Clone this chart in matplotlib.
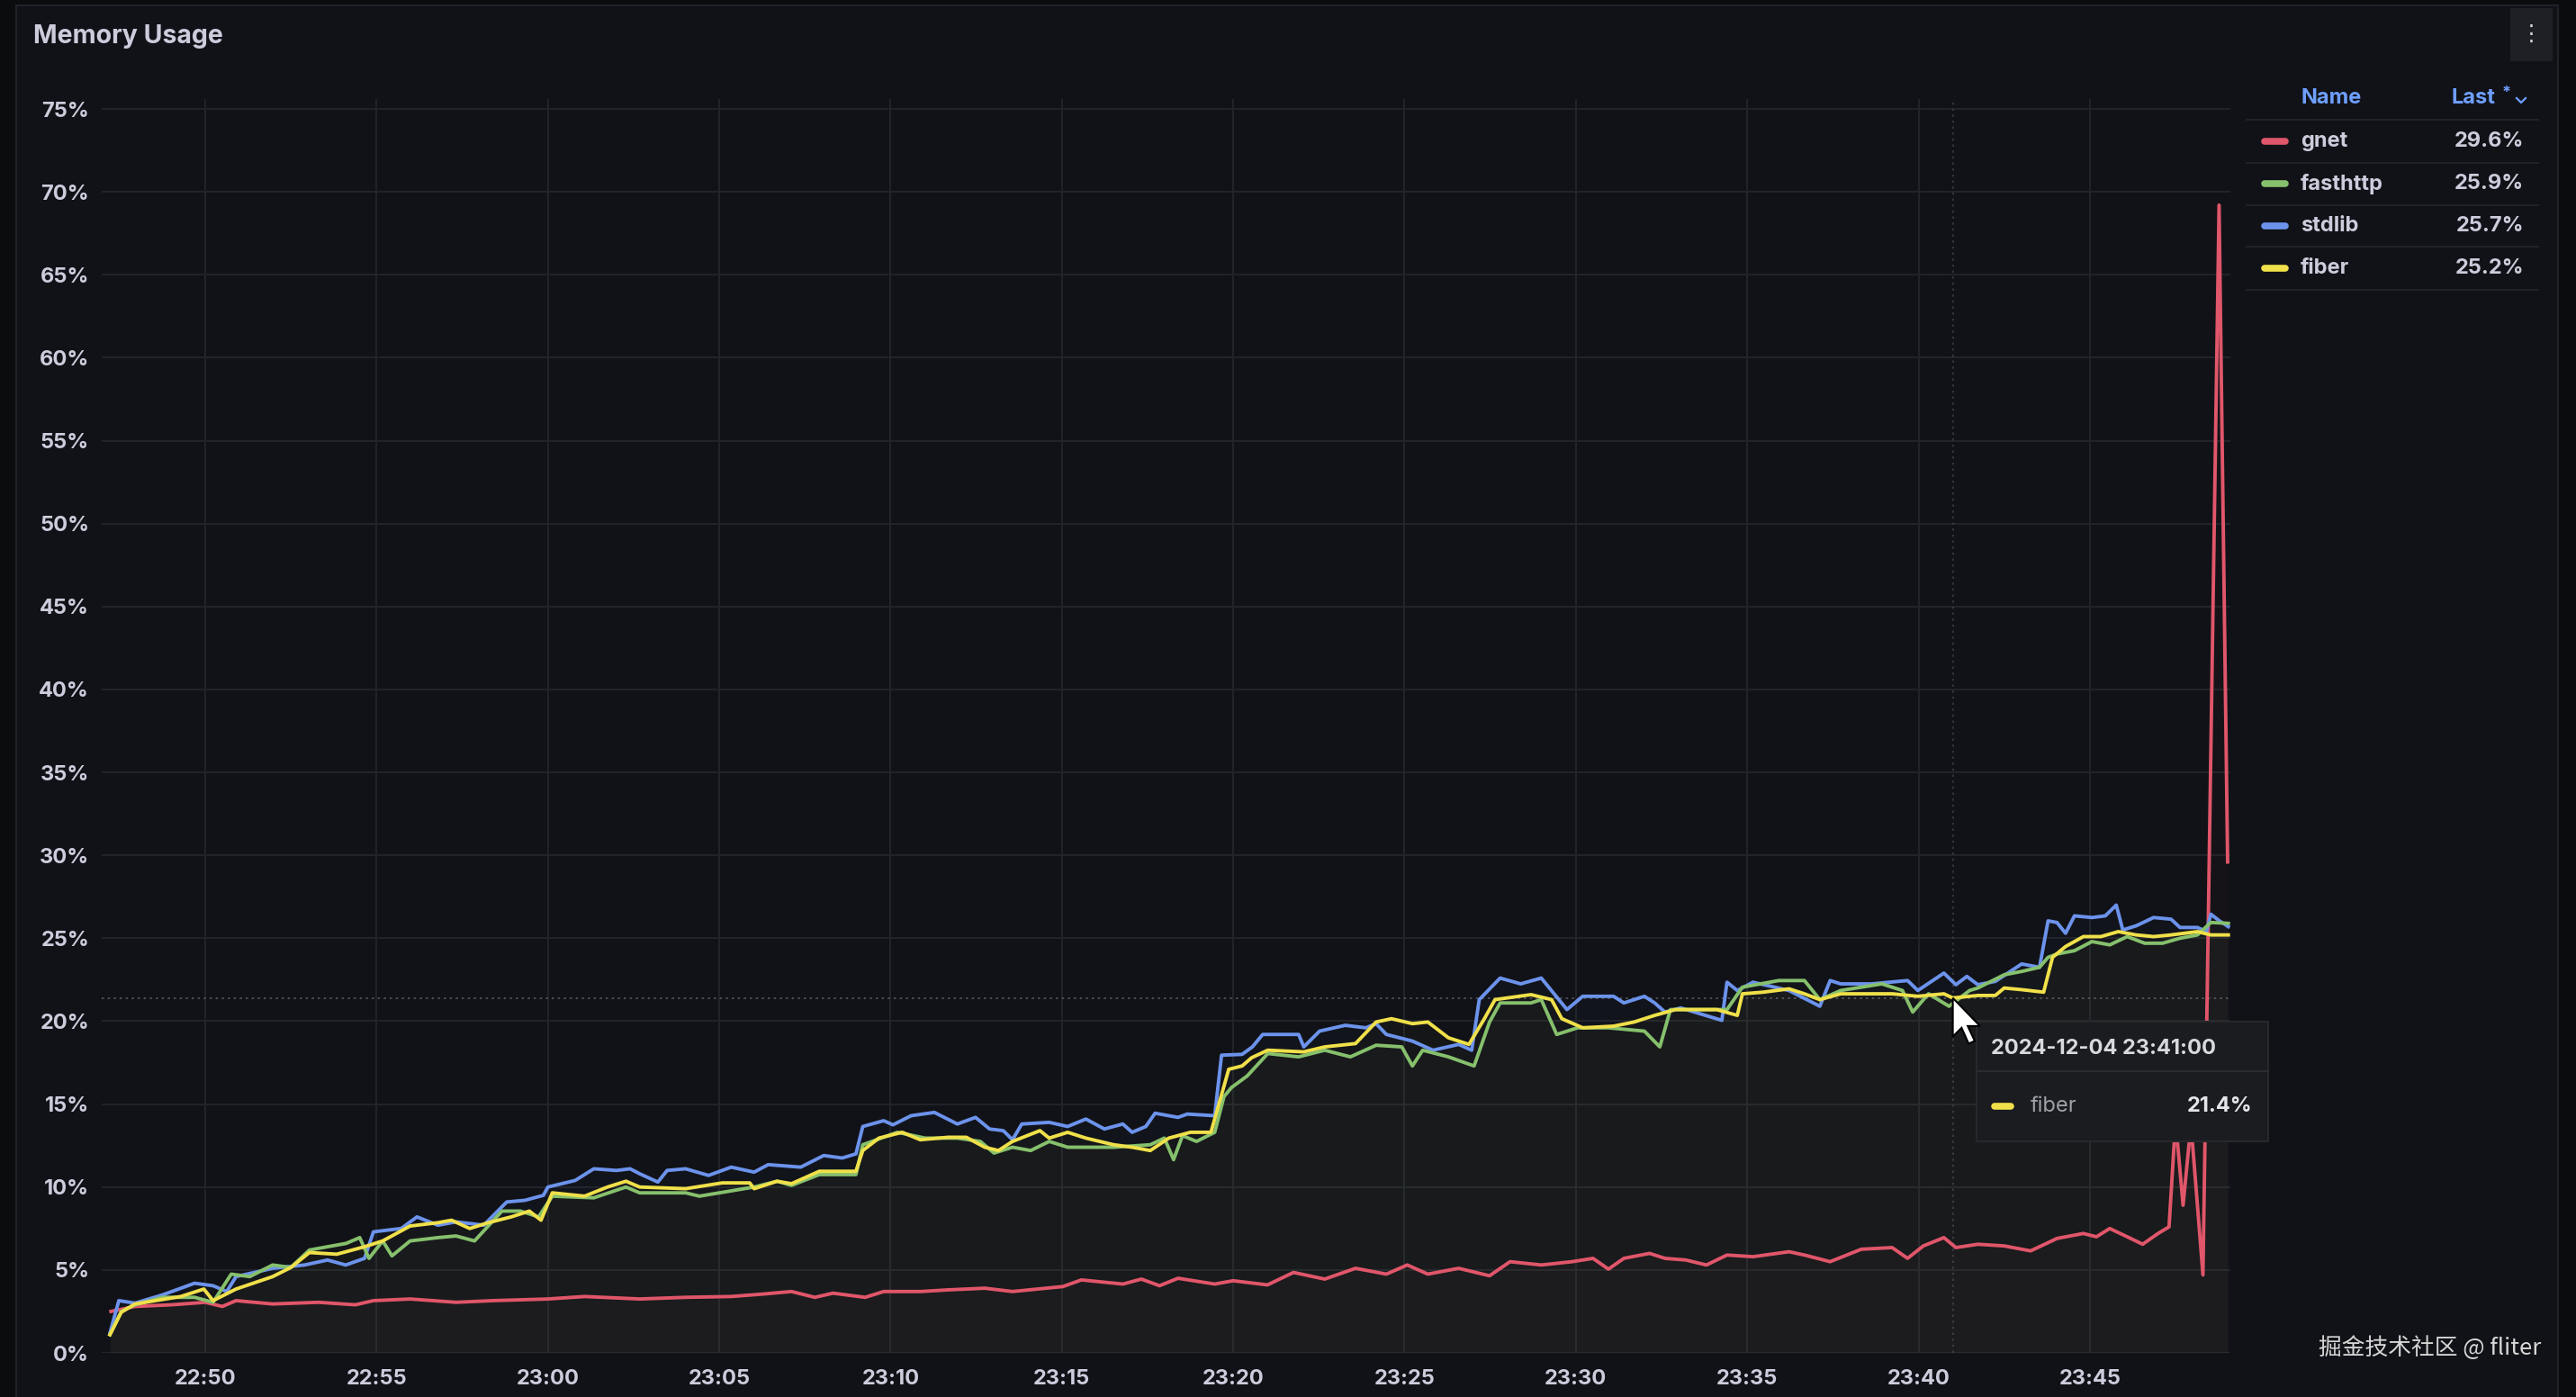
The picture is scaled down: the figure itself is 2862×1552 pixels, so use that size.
import matplotlib
matplotlib.use("Agg")
import matplotlib.pyplot as plt
from matplotlib.patches import Rectangle, Polygon
from matplotlib.lines import Line2D
import numpy as np
import pandas as pd

plt.rcParams['font.family'] = ['Inter', 'DejaVu Sans']

# ---- data (minutes after 22:50, percent) ----
day = "2024-12-04"
base = pd.Timestamp(day + " 22:50:00")

stdlib_min = [-2.78, -2.52, -2.05, -1.24, -0.31, 0.23, 0.63, 0.9, 1.97, 2.9, 3.57, 4.1, 4.65, 4.91,
              5.72, 6.18, 6.79, 7.32, 8.13, 8.8, 9.33, 9.87, 10.0, 10.8, 11.34, 12.0, 12.4, 12.68,
              13.21, 13.48, 14.02, 14.69, 15.35, 16.02, 16.43, 17.38, 18.05, 18.59, 18.99, 19.19,
              19.8, 20.07, 20.6, 21.28, 21.95, 22.48, 22.89, 23.29, 23.56, 23.83, 24.63, 25.17,
              25.7, 26.24, 26.78, 27.05, 27.45, 27.72, 28.39, 28.66, 29.46, 29.66, 30.26, 30.56,
              30.86, 31.91, 32.06, 32.52, 33.27, 33.87, 34.17, 34.47, 35.23, 35.83, 36.58, 36.96,
              37.18, 37.79, 38.39, 38.99, 39.74, 40.2, 41.1, 41.4, 42.0, 42.3, 42.6, 43.06, 44.26,
              44.41, 44.71, 45.17, 46.22, 47.12, 47.42, 47.73, 48.63, 49.68, 49.98, 50.74, 51.09,
              51.41, 51.73, 52.24, 53.01, 53.53, 53.78, 54.04, 54.29, 54.55, 55.06, 55.45, 55.77,
              55.96, 56.35, 56.86, 57.37, 57.63, 58.14, 58.4, 58.53, 58.78, 59.04]
stdlib_pct = [1.2, 3.15, 3.0, 3.5, 4.2, 4.05, 3.7, 4.6, 5.1, 5.3, 5.6, 5.3, 5.7, 7.3,
              7.5, 8.2, 7.7, 7.9, 7.7, 9.1, 9.2, 9.5, 10.0, 10.4, 11.1, 11.0, 11.1, 10.8,
              10.3, 11.0, 11.1, 10.7, 11.2, 10.9, 11.35, 11.2, 11.9, 11.75, 12.0, 13.65,
              14.0, 13.75, 14.3, 14.5, 13.8, 14.2, 13.5, 13.4, 12.85, 13.8, 13.9, 13.65,
              14.1, 13.5, 13.8, 13.3, 13.65, 14.45, 14.2, 14.4, 14.3, 17.95, 18.0, 18.45,
              19.2, 19.2, 18.45, 19.4, 19.75, 19.6, 19.85, 19.2, 18.8, 18.25, 18.6, 18.25,
              21.3, 22.6, 22.25, 22.6, 20.7, 21.5, 21.5, 21.1, 21.5, 21.1, 20.55, 20.8, 20.05,
              22.35, 21.85, 22.35, 21.85, 20.9, 22.45, 22.25, 22.25, 22.45, 21.85, 22.9, 22.2,
              22.7, 22.2, 22.4, 23.45, 23.25, 26.05, 25.95, 25.3, 26.35, 26.25, 26.35, 27.0,
              25.5, 25.75, 26.25, 26.15, 25.65, 25.65, 25.4, 26.45, 26.05, 25.7]

fasthttp_min = [-2.78, -2.45, -2.05, -1.24, -0.31, 0.23, 0.76, 1.3, 1.97, 2.5, 3.04, 3.57, 4.11, 4.51,
                4.78, 5.18, 5.45, 5.98, 6.79, 7.32, 7.86, 8.26, 8.66, 9.2, 9.73, 10.13, 11.34, 12.28,
                12.68, 14.02, 14.42, 16.02, 16.69, 17.11, 17.92, 18.99, 19.19, 20.2, 21.01, 21.95,
                22.62, 23.02, 23.56, 24.09, 24.63, 25.17, 25.7, 26.51, 27.58, 27.99, 28.26, 28.52,
                28.93, 29.46, 29.73, 29.95, 30.41, 31.01, 31.91, 32.67, 33.42, 34.17, 34.92, 35.23,
                35.53, 36.28, 37.03, 37.48, 37.79, 38.69, 38.99, 39.44, 40.05, 40.95, 42.0, 42.45,
                42.76, 44.41, 44.86, 45.92, 46.67, 47.12, 47.73, 48.93, 49.53, 49.83, 50.29, 50.89,
                51.49, 51.73, 52.5, 53.01, 53.53, 53.78, 54.04, 54.55, 55.06, 55.58, 56.09, 56.6,
                57.12, 57.63, 58.14, 58.53, 59.04]
fasthttp_pct = [1.1, 2.5, 2.9, 3.35, 3.35, 3.05, 4.75, 4.6, 5.3, 5.15, 6.2, 6.4, 6.6, 6.95,
                5.7, 6.75, 5.85, 6.75, 6.95, 7.05, 6.75, 7.65, 8.55, 8.55, 8.2, 9.45, 9.35, 10.0,
                9.65, 9.65, 9.45, 10.0, 10.35, 10.1, 10.75, 10.75, 12.55, 13.3, 12.95, 12.95,
                12.75, 12.05, 12.4, 12.2, 12.75, 12.4, 12.4, 12.4, 12.55, 12.95, 11.65, 13.1,
                12.75, 13.3, 15.45, 16.0, 16.7, 18.05, 17.85, 18.25, 17.85, 18.55, 18.45, 17.3,
                18.25, 17.85, 17.3, 19.95, 21.1, 21.1, 21.3, 19.2, 19.6, 19.6, 19.4, 18.45,
                20.7, 20.7, 22.05, 22.45, 22.45, 21.3, 21.85, 22.25, 21.85, 20.55, 21.65, 20.9,
                21.85, 22.0, 22.8, 23.0, 23.25, 23.85, 24.05, 24.25, 24.8, 24.6, 25.1, 24.7,
                24.7, 25.0, 25.2, 25.95, 25.9]

fiber_min = [-2.78, -2.45, -2.05, -0.71, -0.04, 0.23, 0.9, 1.97, 2.5, 3.04, 3.84, 4.65, 5.18, 5.98,
             6.79, 7.19, 7.72, 8.26, 8.93, 9.46, 9.8, 10.13, 11.07, 11.74, 12.28, 12.68, 14.02,
             15.09, 15.89, 16.02, 16.69, 17.11, 17.92, 18.99, 19.19, 19.66, 20.34, 20.87, 21.68,
             22.21, 22.75, 23.15, 23.56, 24.36, 24.63, 25.17, 25.7, 26.51, 27.05, 27.58, 28.12,
             28.75, 29.35, 29.87, 30.26, 30.54, 31.01, 32.06, 32.67, 33.57, 34.17, 34.62, 35.23,
             35.68, 36.28, 36.88, 37.33, 37.64, 38.69, 39.29, 39.59, 40.2, 41.1, 41.7, 42.3,
             42.91, 44.11, 44.71, 44.86, 45.47, 46.22, 46.67, 47.12, 47.73, 49.23, 49.98, 50.74,
             51.0, 51.73, 52.24, 52.5, 53.01, 53.65, 53.91, 54.29, 54.81, 55.32, 55.83, 56.35,
             56.86, 57.37, 58.14, 58.53, 59.04]
fiber_pct = [1.1, 2.45, 2.95, 3.4, 3.85, 3.15, 3.85, 4.6, 5.15, 6.05, 5.95, 6.4, 6.75, 7.65,
             7.85, 8.0, 7.5, 7.85, 8.2, 8.55, 8.0, 9.65, 9.45, 10.0, 10.35, 10.0, 9.9,
             10.25, 10.25, 9.9, 10.35, 10.2, 10.95, 10.95, 12.2, 12.95, 13.3, 12.85, 13.0,
             13.0, 12.4, 12.2, 12.75, 13.4, 12.95, 13.3, 12.95, 12.55, 12.4, 12.2, 12.95,
             13.3, 13.3, 17.1, 17.3, 17.8, 18.25, 18.15, 18.45, 18.65, 19.95, 20.15, 19.85,
             19.95, 19.0, 18.6, 20.15, 21.3, 21.6, 21.3, 20.15, 19.6, 19.7, 19.95, 20.35,
             20.7, 20.7, 20.35, 21.65, 21.75, 21.95, 21.65, 21.3, 21.65, 21.65, 21.5, 21.65,
             21.4, 21.55, 21.55, 22.0, 21.9, 21.75, 23.85, 24.5, 25.1, 25.1, 25.4, 25.2,
             25.1, 25.2, 25.4, 25.2, 25.2]

gnet_min = [-2.75, -2.05, -0.98, 0.0, 0.5, 0.9, 1.97, 3.31, 4.38, 4.91, 5.98, 7.32, 8.39, 10.0,
            11.07, 12.68, 14.02, 15.35, 16.29, 17.11, 17.79, 18.32, 19.26, 19.8, 20.87, 21.68,
            22.75, 23.56, 25.03, 25.57, 26.78, 27.32, 27.85, 28.39, 29.46, 30.0, 31.0, 31.76,
            32.67, 33.57, 34.47, 35.08, 35.68, 36.58, 37.48, 38.08, 38.99, 39.89, 40.5, 40.95,
            41.4, 42.15, 42.6, 43.21, 43.81, 44.41, 45.17, 46.22, 46.67, 47.42, 48.33, 49.23,
            49.68, 50.14, 50.74, 51.09, 51.73, 52.5, 53.27, 54.04, 54.81, 55.19, 55.58, 56.09,
            56.54, 56.99, 57.31, 57.5, 57.72, 57.95, 58.3, 58.77, 59.02]
gnet_pct = [2.5, 2.8, 2.9, 3.05, 2.8, 3.15, 2.95, 3.05, 2.9, 3.15, 3.25, 3.05, 3.15, 3.25,
            3.4, 3.25, 3.35, 3.4, 3.55, 3.7, 3.35, 3.6, 3.35, 3.7, 3.7, 3.8,
            3.9, 3.7, 4.0, 4.4, 4.15, 4.45, 4.05, 4.5, 4.15, 4.35, 4.1, 4.85,
            4.45, 5.1, 4.75, 5.3, 4.75, 5.1, 4.65, 5.5, 5.3, 5.5, 5.7, 5.05,
            5.7, 6.0, 5.7, 5.6, 5.3, 5.9, 5.8, 6.1, 5.9, 5.5, 6.25, 6.35,
            5.7, 6.45, 6.95, 6.35, 6.55, 6.45, 6.15, 6.9, 7.2, 7.0, 7.5, 7.0,
            6.55, 7.2, 7.6, 14.0, 8.9, 13.8, 4.7, 69.2, 29.6]

legend_names = ["gnet", "fasthttp", "stdlib", "fiber"]
legend_last = ["29.6%", "25.9%", "25.7%", "25.2%"]
colors = {"gnet": "#E0566A", "fasthttp": "#86C06C", "stdlib": "#6C93EC", "fiber": "#F0E04A"}

y_ticks = list(range(0, 80, 5))
x_tick_labels = ["22:50", "22:55", "23:00", "23:05", "23:10", "23:15", "23:20",
                 "23:25", "23:30", "23:35", "23:40", "23:45"]
x_range_min = (-3.02, 59.1)
y_range = (0, 75.6)

hover_time = "23:41:00"
hover_series = "fiber"
hover_value = 21.4


def to_time(mins):
    return (base + pd.to_timedelta(np.asarray(mins), unit="m")).to_pydatetime()


W, H = 2862, 1552
TXT = "#ccccdc"
fig = plt.figure(figsize=(W / 100, H / 100), dpi=100)
fig.patch.set_facecolor("#0b0c0e")
fig.add_artist(Rectangle((18 / W, -0.01), (2842 - 18) / W, 1 - 6 / H + 0.01,
                         transform=fig.transFigure, facecolor="#111217",
                         edgecolor="#202228", lw=1.5, zorder=-5))

ax = fig.add_axes([113 / W, 1 - 1503 / H, (2478 - 113) / W, (1503 - 110) / H])
ax.set_facecolor("none")
for s in ax.spines.values():
    s.set_visible(False)

series = [("gnet", gnet_min, gnet_pct), ("stdlib", stdlib_min, stdlib_pct),
          ("fasthttp", fasthttp_min, fasthttp_pct), ("fiber", fiber_min, fiber_pct)]
for name, tm, pct in series:
    t = to_time(tm)
    ax.fill_between(t, pct, 0, color=colors[name], alpha=0.018, lw=0, zorder=2)
    ax.plot(t, pct, color=colors[name], lw=2.8, solid_joinstyle="round", zorder=3)

ax.set_xlim(to_time(x_range_min[0]), to_time(x_range_min[1]))
ax.set_ylim(*y_range)
ax.set_yticks(y_ticks, labels=[f"{v}%" for v in y_ticks], fontweight="bold")
xt = [pd.Timestamp(day + " " + s).to_pydatetime() for s in x_tick_labels]
ax.set_xticks(xt, labels=x_tick_labels, fontweight="bold")
ax.tick_params(length=0, colors=TXT, labelsize=17)
ax.tick_params(axis="y", pad=10)
ax.tick_params(axis="x", pad=13)
ax.grid(True, color="#24252b", lw=1.3, zorder=0)
ax.set_axisbelow(True)

# hover crosshair
hx = pd.Timestamp(day + " " + hover_time).to_pydatetime()
ax.axhline(hover_value, color="#55575e", lw=1.2, ls=(0, (1.5, 2.5)), zorder=1)
ax.axvline(hx, color="#3a3c42", lw=1.2, ls=(0, (1.5, 2.5)), zorder=1)

# title
fig.text(37 / W, 1 - 41 / H, "Memory Usage", ha="left", va="center",
         fontsize=20.5, fontweight="bold", color=TXT)

# menu button
fig.add_artist(Rectangle((2789 / W, 1 - 68 / H), 47 / W, 59 / H, transform=fig.transFigure,
                         facecolor="#1e2025", edgecolor="none"))
fig.text(2812 / W, 1 - 38 / H, "\u22ee", ha="center", va="center", fontsize=18,
         color=TXT, family="DejaVu Sans")

# legend table
fig.text(2556 / W, 1 - 109 / H, "Name", ha="left", va="center", fontsize=17,
         fontweight="bold", color="#6E9FFF")
fig.text(2772 / W, 1 - 109 / H, "Last", ha="right", va="center", fontsize=17,
         fontweight="bold", color="#6E9FFF")
fig.text(2785 / W, 1 - 104 / H, "*", ha="center", va="center", fontsize=13,
         fontweight="bold", color="#6E9FFF")
fig.add_artist(Line2D([2796 / W, 2801 / W, 2806 / W], [1 - 109 / H, 1 - 114 / H, 1 - 109 / H],
                      transform=fig.transFigure, color="#6E9FFF", lw=1.6))
row_y = [157, 204, 251, 298]
sep_y = [133, 181, 228, 274, 322]
for yy in sep_y:
    fig.add_artist(Line2D([2496 / W, 2820 / W], [1 - yy / H, 1 - yy / H],
                          transform=fig.transFigure, color="#202227", lw=1.5))
for name, last, yy in zip(legend_names, legend_last, row_y):
    fig.add_artist(Line2D([2516 / W, 2539 / W], [1 - yy / H, 1 - yy / H],
                          transform=fig.transFigure, color=colors[name], lw=5.5,
                          solid_capstyle="round"))
    fig.text(2556 / W, 1 - yy / H, name, ha="left", va="center", fontsize=17,
             fontweight="bold", color=TXT)
    fig.text(2804 / W, 1 - yy / H, last, ha="right", va="center", fontsize=17,
             fontweight="bold", color=TXT)

# tooltip
fig.add_artist(Rectangle((2196 / W, 1 - 1268 / H), (2520 - 2196) / W, (1268 - 1135) / H,
                         transform=fig.transFigure, facecolor="#1a1c20",
                         edgecolor="#26282d", lw=1.5, zorder=10))
fig.add_artist(Line2D([2196 / W, 2520 / W], [1 - 1190 / H, 1 - 1190 / H],
                      transform=fig.transFigure, color="#2a2c31", lw=1.5, zorder=11))
fig.text(2212 / W, 1 - 1165 / H, f"{day} {hover_time}", ha="left", va="center",
         fontsize=17, fontweight="bold", color="#d8d9de", zorder=12)
fig.add_artist(Line2D([2216 / W, 2234 / W], [1 - 1229 / H, 1 - 1229 / H],
                      transform=fig.transFigure, color=colors[hover_series], lw=5.5,
                      solid_capstyle="round", zorder=12))
fig.text(2256 / W, 1 - 1229 / H, hover_series, ha="left", va="center", fontsize=17,
         color="#9fa1a8", zorder=12)
fig.text(2502 / W, 1 - 1229 / H, f"{hover_value}%", ha="right", va="center", fontsize=17,
         fontweight="bold", color="#e4e5ea", zorder=12)

# mouse pointer at hovered point
fig.canvas.draw()
tipx, tipy = ax.transData.transform((ax.xaxis.convert_units(hx), hover_value))
arrow = np.array([(0, 0), (0, 22), (5, 17), (9, 26), (12.5, 24.5), (8.5, 16), (15.5, 16)]) * 1.95
pts = [((tipx + dx) / W, (tipy - dy) / H) for dx, dy in arrow]
fig.add_artist(Polygon(pts, closed=True, transform=fig.transFigure, facecolor="white",
                       edgecolor="black", lw=1.5, zorder=13))

# watermark
fig.text(2823 / W, 1 - 1498 / H, "掘金技术社区 @ fliter", ha="right", va="center",
         fontsize=18.5, color="#d6d6d6", family=["Noto Sans CJK SC", "DejaVu Sans"], zorder=14)

fig.savefig("out.png", dpi=100, facecolor=fig.get_facecolor())
print("Image saved.")
